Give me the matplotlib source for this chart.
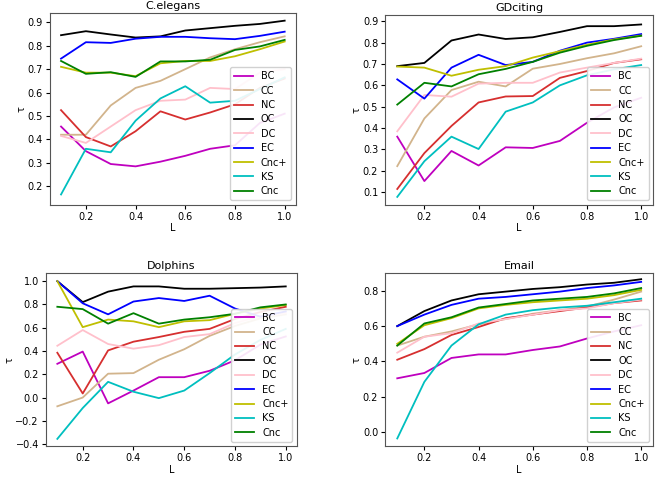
import matplotlib
matplotlib.use("Agg")
import matplotlib.pyplot as plt

L = [0.1, 0.2, 0.3, 0.4, 0.5, 0.6, 0.7, 0.8, 0.9, 1.0]
methods = ["BC", "CC", "NC", "OC", "DC", "EC", "Cnc+", "KS", "Cnc"]
colors = ["m", "tan", "#d62f2f", "k", "pink", "b", "y", "c", "g"]

celegans = {
    "BC":   [0.455, 0.35, 0.295, 0.285, 0.305, 0.33, 0.36, 0.375, 0.47, 0.51],
    "CC":   [0.42, 0.42, 0.545, 0.62, 0.65, 0.70, 0.75, 0.785, 0.815, 0.84],
    "NC":   [0.525, 0.41, 0.37, 0.435, 0.52, 0.485, 0.515, 0.55, 0.62, 0.66],
    "OC":   [0.845, 0.862, 0.848, 0.835, 0.84, 0.865, 0.875, 0.885, 0.893, 0.907],
    "DC":   [0.415, 0.385, 0.455, 0.525, 0.565, 0.57, 0.62, 0.615, 0.685, 0.70],
    "EC":   [0.745, 0.815, 0.812, 0.83, 0.838, 0.838, 0.832, 0.828, 0.842, 0.86],
    "Cnc+": [0.71, 0.685, 0.685, 0.67, 0.725, 0.735, 0.735, 0.755, 0.785, 0.818],
    "KS":   [0.165, 0.36, 0.345, 0.48, 0.575, 0.627, 0.557, 0.565, 0.615, 0.665],
    "Cnc":  [0.735, 0.68, 0.687, 0.667, 0.733, 0.733, 0.74, 0.782, 0.797, 0.825],
}
gdciting = {
    "BC":   [0.36, 0.152, 0.293, 0.225, 0.31, 0.307, 0.34, 0.425, 0.497, 0.542],
    "CC":   [0.222, 0.445, 0.578, 0.617, 0.595, 0.678, 0.70, 0.727, 0.75, 0.783],
    "NC":   [0.115, 0.283, 0.41, 0.52, 0.548, 0.55, 0.635, 0.667, 0.705, 0.722],
    "OC":   [0.69, 0.705, 0.81, 0.838, 0.817, 0.825, 0.85, 0.877, 0.877, 0.885],
    "DC":   [0.385, 0.555, 0.547, 0.608, 0.612, 0.612, 0.66, 0.683, 0.705, 0.725],
    "EC":   [0.628, 0.538, 0.683, 0.743, 0.695, 0.71, 0.762, 0.80, 0.818, 0.84],
    "Cnc+": [0.688, 0.683, 0.645, 0.673, 0.69, 0.73, 0.76, 0.79, 0.815, 0.833],
    "KS":   [0.078, 0.245, 0.36, 0.302, 0.477, 0.52, 0.60, 0.647, 0.675, 0.695],
    "Cnc":  [0.51, 0.612, 0.595, 0.652, 0.677, 0.71, 0.753, 0.785, 0.812, 0.832],
}
dolphins = {
    "BC":   [0.29, 0.395, -0.05, 0.06, 0.175, 0.175, 0.23, 0.32, 0.455, 0.525],
    "CC":   [-0.075, 0.0, 0.205, 0.21, 0.325, 0.415, 0.53, 0.615, 0.68, 0.715],
    "NC":   [0.385, 0.035, 0.405, 0.48, 0.52, 0.565, 0.59, 0.675, 0.735, 0.78],
    "OC":   [1.0, 0.82, 0.91, 0.955, 0.955, 0.935, 0.935, 0.94, 0.945, 0.955],
    "DC":   [0.445, 0.58, 0.46, 0.42, 0.45, 0.52, 0.545, 0.64, 0.70, 0.725],
    "EC":   [1.0, 0.81, 0.715, 0.825, 0.855, 0.83, 0.875, 0.765, 0.695, 0.74],
    "Cnc+": [1.0, 0.605, 0.67, 0.655, 0.605, 0.655, 0.665, 0.72, 0.765, 0.795],
    "KS":   [-0.355, -0.09, 0.135, 0.05, -0.005, 0.06, 0.21, 0.37, 0.495, 0.59],
    "Cnc":  [0.78, 0.76, 0.635, 0.725, 0.635, 0.67, 0.69, 0.72, 0.775, 0.80],
}
email = {
    "BC":   [0.305, 0.335, 0.42, 0.44, 0.44, 0.465, 0.485, 0.53, 0.57, 0.605],
    "CC":   [0.49, 0.54, 0.57, 0.61, 0.64, 0.67, 0.69, 0.71, 0.75, 0.795],
    "NC":   [0.41, 0.47, 0.55, 0.595, 0.645, 0.665, 0.685, 0.705, 0.73, 0.745],
    "OC":   [0.60, 0.685, 0.745, 0.78, 0.795, 0.81, 0.82, 0.835, 0.845, 0.865],
    "DC":   [0.45, 0.54, 0.56, 0.615, 0.64, 0.665, 0.69, 0.70, 0.73, 0.75],
    "EC":   [0.60, 0.665, 0.72, 0.755, 0.765, 0.78, 0.795, 0.815, 0.83, 0.85],
    "Cnc+": [0.50, 0.605, 0.645, 0.70, 0.72, 0.735, 0.745, 0.755, 0.775, 0.805],
    "KS":   [-0.035, 0.285, 0.49, 0.61, 0.665, 0.69, 0.705, 0.715, 0.735, 0.755],
    "Cnc":  [0.49, 0.615, 0.65, 0.705, 0.725, 0.745, 0.755, 0.765, 0.785, 0.815],
}

panels = [
    ("C.elegans", celegans, [0.076, 0.572, 0.375, 0.401], (0.12, 0.94), [0.2, 0.3, 0.4, 0.5, 0.6, 0.7, 0.8, 0.9]),
    ("GDciting", gdciting, [0.587, 0.572, 0.409, 0.397], (0.04, 0.93), [0.1, 0.2, 0.3, 0.4, 0.5, 0.6, 0.7, 0.8, 0.9]),
    ("Dolphins", dolphins, [0.07, 0.068, 0.383, 0.362], (-0.42, 1.07), [-0.4, -0.2, 0.0, 0.2, 0.4, 0.6, 0.8, 1.0]),
    ("Email", email, [0.587, 0.068, 0.409, 0.362], (-0.08, 0.90), [0.0, 0.2, 0.4, 0.6, 0.8]),
]

fig = plt.figure(figsize=(6.56, 4.79), dpi=100)
for title, data, rect, ylim, yticks in panels:
    ax = fig.add_axes(rect)
    for m, c in zip(methods, colors):
        ax.plot(L, data[m], color=c, lw=1.3, label=m)
    ax.set_title(title, fontsize=8, pad=3)
    ax.set_xlabel("L", fontsize=7, labelpad=1)
    ax.set_ylabel("τ", fontsize=7, labelpad=1)
    ax.set_ylim(*ylim)
    ax.set_xlim(0.055, 1.045)
    ax.set_xticks([0.2, 0.4, 0.6, 0.8, 1.0])
    ax.set_yticks(yticks)
    ax.tick_params(labelsize=7, length=3, pad=2)
    for s in ax.spines.values():
        s.set_color("#555555")
    ax.legend(loc="lower right", fontsize=7, handlelength=2.0, labelspacing=0.45,
              borderpad=0.4, framealpha=0.9)

fig.savefig("out.png", dpi=100)
